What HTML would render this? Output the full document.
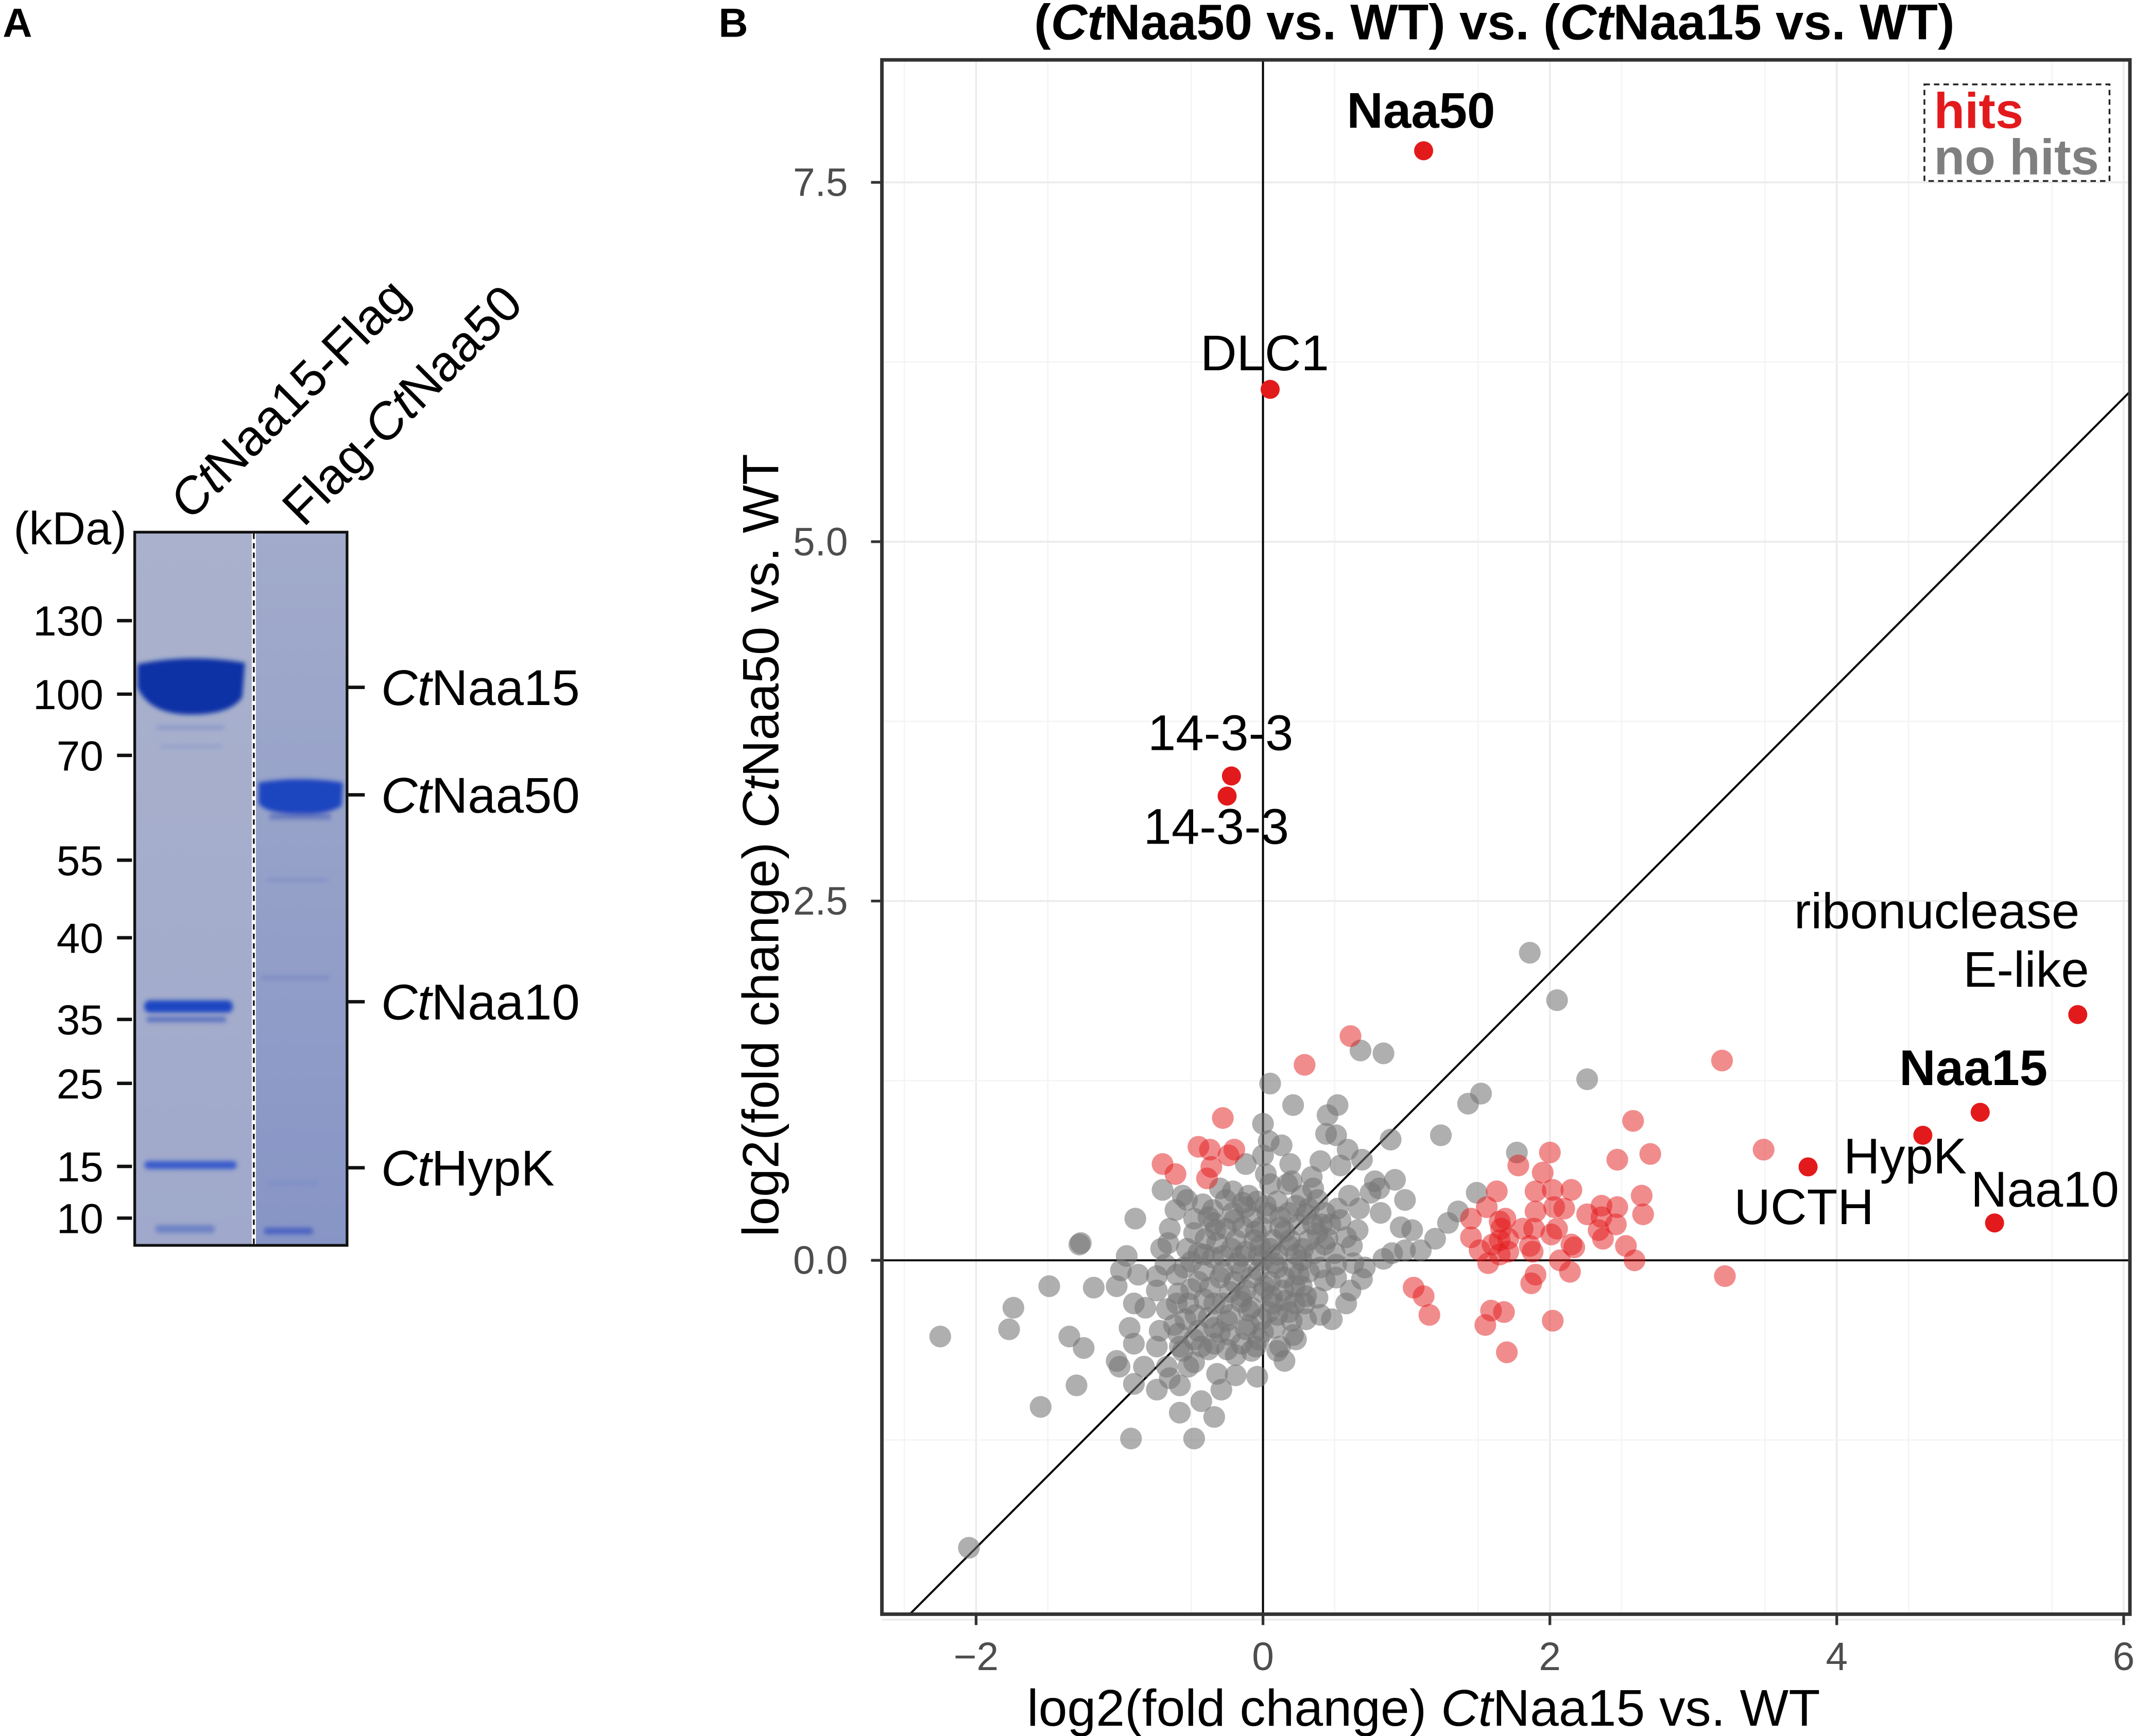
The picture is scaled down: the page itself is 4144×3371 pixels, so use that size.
<!DOCTYPE html>
<html><head><meta charset="utf-8"><style>
html,body{margin:0;padding:0;background:#fff}
svg{display:block}
text{font-family:"Liberation Sans",Arial,sans-serif}
</style></head><body>
<svg id="fig" xmlns="http://www.w3.org/2000/svg" width="4144" height="3371" viewBox="0 0 1568 1275.5" preserveAspectRatio="none">
<defs>
<linearGradient id="lane1g" x1="0" y1="0" x2="0" y2="1"><stop offset="0" stop-color="#a9b1cc"/><stop offset="1" stop-color="#a0a9cb"/></linearGradient>
<linearGradient id="lane2g" x1="0" y1="0" x2="0" y2="1"><stop offset="0" stop-color="#a2abcb"/><stop offset="1" stop-color="#8795c6"/></linearGradient>
<filter id="blur1"><feGaussianBlur stdDeviation="1.6"/></filter>
<clipPath id="plotclip"><rect x="648" y="44" width="917" height="1142"/></clipPath>
</defs>
<rect width="1568" height="1275.5" fill="#fff"/>
<text x="2" y="27" font-size="30" font-weight="bold">A</text>
<text x="528" y="27" font-size="30" font-weight="bold">B</text>

<g>
  <rect x="99" y="391" width="88" height="524" fill="url(#lane1g)"/>
  <rect x="187" y="391" width="68" height="524" fill="url(#lane2g)"/>
  <g filter="url(#blur1)">
    <path d="M101,488 Q140,480 180,487 L178,512 Q170,525 140,525 Q110,525 101,505 Z" fill="#0d33a6"/>
    <rect x="115" y="533" width="50" height="3" fill="#8d9ac9"/>
    <rect x="118" y="547" width="45" height="3" fill="#95a0ca"/>
    <path d="M190,575 Q220,570 252,575 L251,592 Q240,599 220,598 Q195,598 190,590 Z" fill="#1a45c0"/>
    <rect x="198" y="598" width="45" height="4" fill="#6577bd"/>
    <rect x="196" y="645" width="45" height="3" fill="#8593c6"/>
    <rect x="192" y="717" width="50" height="3" fill="#7d8cc3"/>
    <rect x="106" y="735" width="65" height="9" rx="4" fill="#1d47c2"/>
    <rect x="108" y="747" width="58" height="4" fill="#5c72bf"/>
    <rect x="106" y="853" width="68" height="6" rx="3" fill="#3a5ccb"/>
    <rect x="196" y="868" width="38" height="3" fill="#7f8fc6"/>
    <rect x="114" y="900" width="44" height="6" rx="3" fill="#6f83c6"/>
    <rect x="194" y="902" width="36" height="5" rx="2" fill="#4d65c1"/>
  </g>
  <rect x="99" y="391" width="156" height="524" fill="none" stroke="#111" stroke-width="2"/>
  <line x1="186.5" y1="392" x2="186.5" y2="914" stroke="#fff" stroke-width="3"/>
  <line x1="186.5" y1="392" x2="186.5" y2="914" stroke="#111" stroke-width="1.3" stroke-dasharray="4,3"/>
</g>
<text x="10" y="400" font-size="34">(kDa)</text>
<g id="markers"></g>
<g id="bandlabels"></g>
<text x="140" y="383" font-size="37" transform="rotate(-45 140 383)"><tspan font-style="italic">Ct</tspan>Naa15-Flag</text>
<text x="223" y="388" font-size="37" transform="rotate(-45 223 388)">Flag-<tspan font-style="italic">Ct</tspan>Naa50</text>

<g id="grid"></g>
<g clip-path="url(#plotclip)">
  <g id="refs"></g>
  <g id="points"></g>
</g>
<rect x="648" y="44" width="917" height="1142" fill="none" stroke="#333" stroke-width="2.6"/>
<g id="ticks"></g>
<g id="labels"></g>
<text x="1098" y="29" font-size="37" font-weight="bold" text-anchor="middle">(<tspan font-style="italic">Ct</tspan>Naa50 vs. WT) vs. (<tspan font-style="italic">Ct</tspan>Naa15 vs. WT)</text>
<text x="1046" y="1268" font-size="38" text-anchor="middle">log2(fold change) <tspan font-style="italic">Ct</tspan>Naa15 vs. WT</text>
<text x="572" y="621" font-size="37.5" text-anchor="middle" transform="rotate(-90 572 621)">log2(fold change) <tspan font-style="italic">Ct</tspan>Naa50 vs. WT</text>
<g>
  <rect x="1414" y="62" width="136" height="71" fill="#fff" stroke="#222" stroke-width="1.3" stroke-dasharray="4,3"/>
  <text x="1421" y="94" font-size="37" font-weight="bold" fill="#e31a1c">hits</text>
  <text x="1421" y="128" font-size="37" font-weight="bold" fill="#7f7f7f">no hits</text>
</g>
</svg>
<script>
const markerValues=["130","100","70","55","40","35","25","15","10"];
const markerY=[456,510,555,632,689,749,796,857,895];
const bandNames=["Naa15","Naa50","Naa10","HypK"];
const bandY=[505,584,736,858];

const xTicks=[-2,0,2,4,6];
const yTicks=[0,2.5,5,7.5];
const yTickLabels=["0.0","2.5","5.0","7.5"];

const labeledNames=["Naa50","DLC1","14-3-3","14-3-3","ribonuclease E-like","Naa15","HypK","UCTH","Naa10"];
const labeledX=[1.12,0.05,-0.22,-0.25,5.68,5.0,4.6,3.8,5.1];
const labeledY=[7.72,6.06,3.37,3.23,1.71,1.03,0.87,0.65,0.26];

const hitPts=[[0.61,1.56],[0.29,1.36],[-0.28,0.99],[-0.45,0.79],[-0.37,0.77],[-0.2,0.77],[-0.24,0.73],[-0.7,0.67],[-0.61,0.6],[-0.36,0.65],[-0.39,0.57],
[2.58,0.97],[2.7,0.74],[2.47,0.7],[2.0,0.75],[1.78,0.66],[1.95,0.61],[1.9,0.48],[2.02,0.49],[2.15,0.49],[1.63,0.48],[1.56,0.37],[2.03,0.37],[2.1,0.36],[1.9,0.34],[2.64,0.45],[2.36,0.38],[2.47,0.37],[2.65,0.32],[2.26,0.32],[1.45,0.29],[1.65,0.27],[1.69,0.29],[2.36,0.3],[2.46,0.25],[2.34,0.21],[1.66,0.22],[1.81,0.22],[1.89,0.22],[2.05,0.22],[2.01,0.18],[1.45,0.16],[2.37,0.15],[1.71,0.15],[1.65,0.14],[2.15,0.11],[2.53,0.1],[1.86,0.1],[1.6,0.11],[1.51,0.07],[1.71,0.06],[1.88,0.06],[1.65,0.04],[2.17,0.09],[2.07,0],[2.59,0],[1.57,-0.02],[2.14,-0.08],[1.9,-0.1],[1.87,-0.16],[1.05,-0.19],[1.12,-0.25],[1.16,-0.38],[1.59,-0.35],[1.68,-0.36],[1.55,-0.45],[2.02,-0.42],[1.7,-0.64],[3.2,1.39],[3.49,0.77],[3.22,-0.11]];

const grayPts=[[1.86,2.14],[2.05,1.81],[0.68,1.46],[0.84,1.44],[0.05,1.23],[0.21,1.08],[0.52,1.08],[0.45,1.01],[0.44,0.88],[0.51,0.87],[0,0.95],[0.04,0.83],[0.13,0.8],[0.59,0.77],[0.69,0.7],[0.89,0.84],[1.24,0.87],[1.43,1.09],[1.52,1.16],[2.26,1.26],[1.77,0.75],[1.49,0.47],[0.99,0.42],[0.92,0.56],[0.78,0.55],[1.36,0.34],[1.29,0.26],[1.2,0.15],[1.1,0.07],[1.04,0.21],[0.96,0.23],[0.9,0.05],[0.84,0.01],[0.99,0.07],
[-0.89,0.29],[-1.28,0.11],[-1.27,0.12],[-0.95,0.03],[-0.99,-0.07],[-0.87,-0.1],[-1.49,-0.18],[-1.18,-0.19],[-1.02,-0.18],[-1.74,-0.33],[-1.77,-0.48],[-2.25,-0.53],[-1.35,-0.53],[-1.25,-0.61],[-0.9,-0.3],[-0.82,-0.33],[-0.93,-0.47],[-0.9,-0.58],[-1.02,-0.7],[-1.0,-0.74],[-0.9,-0.86],[-0.74,-0.9],[-1.3,-0.87],[-1.55,-1.02],[-0.58,-0.87],[-0.58,-1.06],[-0.43,-0.98],[-0.34,-1.09],[-0.29,-0.9],[-0.32,-0.79],[-0.92,-1.24],[-0.48,-1.24],[-0.04,-0.81],[0.15,-0.7],[0.12,-0.6],[0.23,-0.55],[0.48,-0.41],[0.38,-0.26],[0.58,-0.3],[0.61,-0.21],[0.69,-0.13],[0.71,-0.05],[0.63,-0.02],[0.51,-0.12],[0.58,0.16],[0.66,0.21],[0.67,0.36],[0.82,0.33],[0.75,0.47],[0.81,0.5],[0.52,0.36],[0.54,0.28],[0.41,0.25],[0.34,0.58],[0.4,0.69],[0.54,0.66],[0.19,0.67],[0.02,0.6],[-0.12,0.67],[0,0.73],[0.05,0.53],[0.17,0.53],[0.27,0.45],[-0.21,0.48],[-0.3,0.5],[-0.14,0.4],[-0.12,0.37],[-0.34,0.26],[-0.48,0.29],[-0.61,0.35],[-0.56,0.45],[-0.7,0.49],[-0.53,0.42],[-0.42,0.39],[-0.33,0.21],[-0.48,0.19],[-0.71,0.08],[-0.66,0.12],[-0.53,0.08],[-0.68,-0.03],[-0.74,-0.11],[-0.6,-0.1],[-0.74,-0.21],[-0.59,-0.23],[-0.67,-0.34],[-0.54,-0.41],[-0.72,-0.49],[-0.59,-0.51],[-0.45,-0.49],[-0.43,-0.6],[-0.56,-0.63],[-0.67,-0.74],[-0.52,-0.74],[-0.19,-0.66],[-0.15,-0.58],[-0.03,-0.55],[0.08,-0.47],[0.21,-0.52],[0.3,-0.41],[0.18,-0.36],[0.07,-0.3],[-0.08,-0.33],[-0.23,-0.38],[-0.34,-0.3],[-0.37,-0.19],[-0.23,-0.22],[-0.12,-0.21],[0.01,-0.18],[0.14,-0.21],[0.27,-0.18],[0.32,-0.08],[0.21,-0.05],[0.1,-0.05],[-0.03,-0.07],[-0.15,-0.08],[-0.28,-0.08],[-0.41,-0.07],[-0.5,-0.01],[-0.41,0.04],[-0.28,0.03],[-0.15,0.03],[-0.03,0.03],[0.1,0.04],[0.23,0.04],[0.36,0.05],[0.43,0.11],[0.32,0.14],[0.19,0.14],[0.07,0.14],[-0.06,0.14],[-0.19,0.14],[-0.32,0.12],[-0.26,0.22],[-0.14,0.23],[-0.01,0.23],[0.12,0.23],[0.25,0.25],[0.38,0.19],[0.18,0.33],[0.03,0.33],[-0.08,0.3],[-0.21,0.33],[-0.04,0.41],[0.1,0.41],[0.23,0.38],[0.32,0.36],[0.43,0.33],[0.47,0.25],[0.51,-0.03],[0.43,-0.14],[0.4,-0.38],[0.29,-0.3],[-0.01,-0.41],[-0.1,-0.45],[-0.23,-0.52],[-0.34,-0.47],[-0.47,-0.38],[-0.52,-0.3],[-0.41,-0.27],[-0.15,-0.29],[-0.34,-0.58],[-0.08,-0.63],[0.1,-0.63],[-0.74,-0.6],[-0.83,-0.74],[-0.48,-0.71],[-0.19,-0.8],[-0.65,-0.82],[-2.05,-2.0],
[0.0,0.0],[0.05,0.08],[-0.08,-0.12],[0.15,-0.12],[-0.2,-0.15],[0.28,0.08],[-0.35,0.02],[0.12,0.3],[-0.1,0.45],[0.3,-0.25],[-0.45,-0.15],[0.06,-0.25],[-0.25,-0.42],[0.2,0.55],[-0.05,-0.6],[0.38,0.42],
[-0.02,0.1],[0.08,-0.02],[-0.12,0.06],[0.18,0.1],[-0.22,0.08],[0.25,-0.1],[-0.3,-0.12],[0.35,0.25],[-0.4,0.15],[0.4,-0.05],[-0.45,0.05],[0.05,-0.15],[-0.15,-0.25],[0.15,0.2],[-0.05,0.2],[0.22,-0.3],[-0.28,-0.3],[0.3,0.32],[-0.35,0.35],[0.1,-0.38],[-0.1,-0.35],[-0.2,0.28],[0.02,0.38],[0.45,0.15],[-0.5,-0.2],[-0.55,-0.05],[0.5,0.05],[0.2,-0.42],[-0.38,-0.4],[-0.6,-0.3],[-0.62,-0.45],[-0.48,-0.55],[-0.3,-0.5],[-0.12,-0.48],[0.04,-0.36],[0.16,-0.28],[-0.18,-0.02],[0.0,-0.22],[0.27,0.0],[-0.26,0.42],[-0.38,0.3],[0.35,0.5],[0.6,0.45],[0.62,0.1],[-0.65,0.22],[-0.58,-0.6],[-0.38,-0.62],[-0.25,-0.62],[0.0,-0.5],[0.22,-0.18]];

const NS="http://www.w3.org/2000/svg";
const X0=928, Y0=926, XU=105.4, YU=105.6;
function sx(v){return X0+v*XU;}
function sy(v){return Y0-v*YU;}
function mk(tag,attrs,parent){const e=document.createElementNS(NS,tag);for(const k in attrs)e.setAttribute(k,attrs[k]);parent.appendChild(e);return e;}

const mg=document.getElementById('markers');
markerValues.forEach((v,i)=>{
  const t=mk('text',{x:76,y:markerY[i]+11,'font-size':31,'text-anchor':'end'},mg);
  t.textContent=v;
  
  
  const l=mk('line',{x1:86,x2:97,y1:markerY[i],y2:markerY[i],stroke:'#111','stroke-width':2.5},mg);
  
  
});
const bl=document.getElementById('bandlabels');
bandNames.forEach((n,i)=>{
  const l=mk('line',{x1:256,x2:268,y1:bandY[i],y2:bandY[i],stroke:'#111','stroke-width':2.5},bl);
  
  
  const t=mk('text',{x:280,y:bandY[i]+13,'font-size':37},bl);
  
  
  const a=mk('tspan',{'font-style':'italic'},t);a.textContent='Ct';
  const b=mk('tspan',{},t);b.textContent=n;
});

const g=document.getElementById('grid');
for(let v=-2.5;v<=6;v+=1){mk('line',{x1:sx(v),x2:sx(v),y1:44,y2:1186,stroke:'#f4f4f4','stroke-width':1},g);}
for(let v=-2;v<=6;v+=2){mk('line',{x1:sx(v),x2:sx(v),y1:44,y2:1186,stroke:'#ebebeb','stroke-width':1.3},g);}
[-1.25,1.25,3.75,6.25].forEach(v=>mk('line',{x1:648,x2:1565,y1:sy(v),y2:sy(v),stroke:'#f4f4f4','stroke-width':1},g));
[-2.5,0,2.5,5,7.5].forEach(v=>mk('line',{x1:648,x2:1565,y1:sy(v),y2:sy(v),stroke:'#ebebeb','stroke-width':1.3},g));

const r=document.getElementById('refs');
const h=mk('line',{x1:648,x2:1565,y1:sy(0),y2:sy(0),stroke:'#000','stroke-width':1.5},r);

const vv=mk('line',{x1:sx(0),x2:sx(0),y1:44,y2:1186,stroke:'#000','stroke-width':1.5},r);

const d=mk('line',{x1:sx(-3),y1:sy(-3),x2:sx(7),y2:sy(7),stroke:'#000','stroke-width':1.5},r);


const pg=document.getElementById('points');
grayPts.forEach(p=>{
  const c=mk('circle',{cx:sx(p[0]),cy:sy(p[1]),r:8,fill:'#767676','fill-opacity':0.58},pg);
  
  
});
hitPts.forEach(p=>{
  const c=mk('circle',{cx:sx(p[0]),cy:sy(p[1]),r:8,fill:'#e31a1c','fill-opacity':0.5},pg);
  
  
});
labeledX.forEach((x,i)=>{
  const c=mk('circle',{cx:sx(x),cy:sy(labeledY[i]),r:7,fill:'#e31a1c'},pg);
  
  
});

const tg=document.getElementById('ticks');
xTicks.forEach(v=>{
  mk('line',{x1:sx(v),x2:sx(v),y1:1187,y2:1194,stroke:'#333','stroke-width':2},tg);
  const t=mk('text',{x:sx(v),y:1227,'font-size':29,'text-anchor':'middle',fill:'#4d4d4d'},tg);
  t.textContent=(v<0?'\u2212':'')+Math.abs(v);
  
  
});
yTicks.forEach((v,i)=>{
  mk('line',{x1:640,x2:647,y1:sy(v),y2:sy(v),stroke:'#333','stroke-width':2},tg);
  const t=mk('text',{x:623,y:sy(v)+10,'font-size':29,'text-anchor':'end',fill:'#4d4d4d'},tg);
  t.textContent=yTickLabels[i];
  
  
});

const lg=document.getElementById('labels');
const labelOff=[[-2,-17,'middle',true],[-4,-14,'middle',false],[-8,-19,'middle',false],[-8,35,'middle',false],[0,0,'end',false],[-5,-20,'middle',true],[-13,28,'middle',false],[-3,42,'middle',false],[37,-12,'middle',false]];
labeledNames.forEach((n,i)=>{
  const o=labelOff[i];
  const px=sx(labeledX[i])+o[0], py=sy(labeledY[i])+o[1];
  if(i===4){
    const t1=mk('text',{x:1528,y:682,'font-size':37,'text-anchor':'end'},lg);
    t1.textContent='ribonuclease';
    
    
    const t2=mk('text',{x:1535,y:725,'font-size':37,'text-anchor':'end'},lg);
    t2.textContent='E-like';
    
    
    return;
  }
  const t=mk('text',{x:px,y:py,'font-size':37,'text-anchor':o[2],'font-weight':o[3]?'bold':'normal'},lg);
  t.textContent=n;
  
  
});
</script>
</body></html>
